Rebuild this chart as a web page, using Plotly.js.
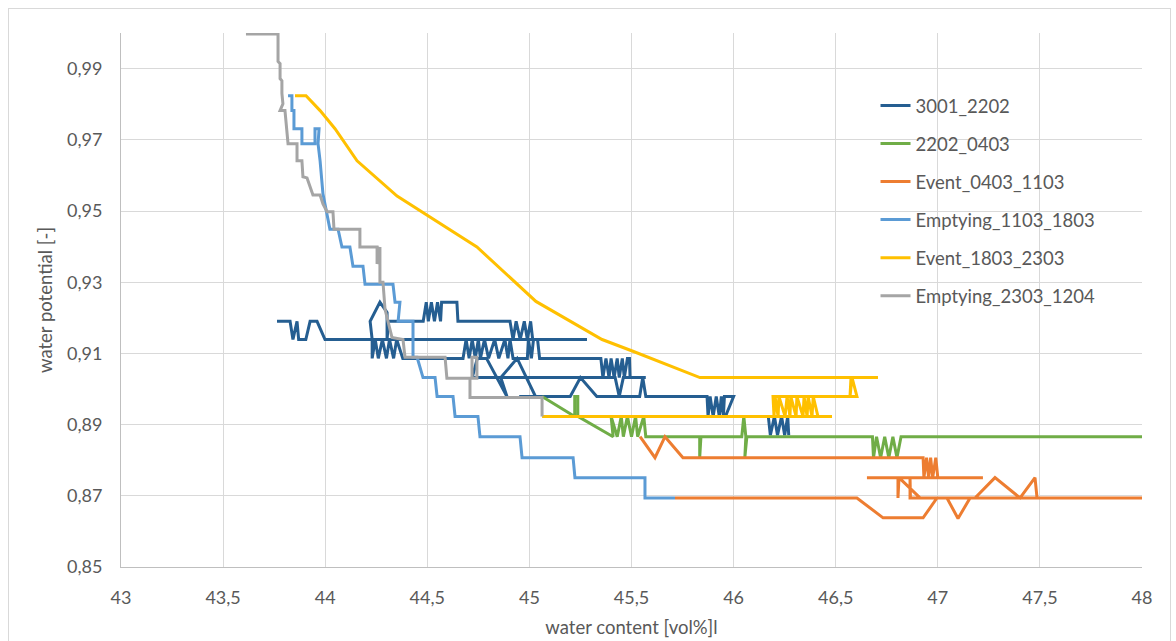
<!DOCTYPE html>
<html>
<head>
<meta charset="utf-8">
<script src="https://cdn.plot.ly/plotly-3.0.1.min.js"></script>
<style>
  html, body { margin:0; padding:0; background:#ffffff; }
  #chart { position:absolute; left:0; top:0; width:1176px; height:641px; }
  #frame { position:absolute; left:8px; top:8px; width:1161px; height:660px; border:1px solid #d9d9d9; pointer-events:none; }
</style>
</head>
<body>
<div id="chart"></div>
<div id="frame"></div>
<script>
// ---- data ----
const seriesNames = ["3001_2202", "2202_0403", "Event_0403_1103", "Emptying_1103_1803", "Event_1803_2303", "Emptying_2303_1204"];
const seriesColors = ["#255E91", "#70AD47", "#ED7D31", "#5B9BD5", "#FFC000", "#A5A5A5"];

const s3001_2202_x = [43.764,43.828,43.842,43.862,43.870,43.905,43.926,43.960,43.999,45.282,45.016,45.006,44.990,44.975,44.955,44.935,44.920,44.905,44.650,44.645,44.570,44.565,44.550,44.535,44.520,44.505,44.495,44.480,44.310,44.303,44.303,44.268,44.220,44.230,44.230,44.245,44.260,44.280,44.300,44.315,44.335,44.350,44.380,44.675,44.690,44.705,44.720,44.735,44.750,44.760,44.780,44.800,44.830,44.850,44.880,44.895,44.905,44.920,44.990,44.995,45.010,45.020,45.040,45.050,45.350,45.360,45.375,45.390,45.400,45.415,45.430,45.440,45.455,45.465,45.480,45.490,45.493,45.570,45.460,45.440,45.420,44.720,44.745,44.790,44.890,44.860,44.940,45.030,44.950,45.200,45.250,45.330,45.540,45.555,45.570,45.870,45.875,45.885,45.900,45.915,45.930,45.940,45.950,45.955,46.000,45.960,46.170,46.180,46.200,46.215,46.235,46.250,46.265,46.270];
const s3001_2202_y = [0.9190,0.9190,0.9139,0.9190,0.9139,0.9139,0.9190,0.9190,0.9139,0.9139,0.9139,0.9190,0.9139,0.9190,0.9139,0.9190,0.9139,0.9190,0.9190,0.9244,0.9244,0.9190,0.9244,0.9190,0.9244,0.9190,0.9244,0.9190,0.9190,0.9139,0.9215,0.9244,0.9190,0.9139,0.9086,0.9139,0.9086,0.9139,0.9086,0.9139,0.9086,0.9139,0.9086,0.9086,0.9139,0.9086,0.9139,0.9086,0.9139,0.9086,0.9139,0.9086,0.9139,0.9086,0.9139,0.9086,0.9139,0.9086,0.9086,0.9139,0.9086,0.9139,0.9139,0.9086,0.9086,0.9032,0.9086,0.9032,0.9086,0.9032,0.9086,0.9032,0.9086,0.9032,0.9086,0.9086,0.9032,0.9032,0.9032,0.8979,0.9032,0.9032,0.9086,0.9086,0.8979,0.9032,0.9086,0.8979,0.8979,0.8979,0.9032,0.8979,0.8979,0.9032,0.8979,0.8979,0.8923,0.8979,0.8923,0.8979,0.8923,0.8979,0.8923,0.8979,0.8979,0.8923,0.8923,0.8870,0.8923,0.8870,0.8923,0.8870,0.8923,0.8870];

const s2202_0403_x = [45.062,45.222,45.222,45.237,45.237,45.410,45.400,45.430,45.450,45.460,45.480,45.500,45.520,45.530,45.560,45.570,45.834,45.834,45.840,46.040,46.050,46.060,46.055,46.065,46.680,46.685,46.700,46.720,46.740,46.760,46.780,46.800,46.820,48.000];
const s2202_0403_y = [0.8979,0.8923,0.8979,0.8979,0.8923,0.8866,0.8923,0.8866,0.8923,0.8866,0.8923,0.8866,0.8923,0.8866,0.8923,0.8866,0.8866,0.8807,0.8866,0.8866,0.8923,0.8866,0.8807,0.8866,0.8866,0.8807,0.8866,0.8807,0.8866,0.8807,0.8866,0.8807,0.8866,0.8866];

const sEvent_0403_1103_x = [45.542,45.615,45.664,45.752,46.928,46.932,46.945,46.955,46.965,46.975,46.990,47.000,47.221,46.653,46.805,46.805,46.810,46.913,46.864,46.864,46.866,47.045,47.099,47.158,47.182,47.280,47.403,47.476,47.486,48.000,46.996,46.928,46.732,46.604,45.713];
const sEvent_0403_1103_y = [0.8866,0.8807,0.8866,0.8807,0.8807,0.8751,0.8807,0.8751,0.8807,0.8751,0.8807,0.8751,0.8751,0.8751,0.8751,0.8694,0.8751,0.8694,0.8694,0.8751,0.8694,0.8694,0.8636,0.8694,0.8694,0.8751,0.8694,0.8751,0.8694,0.8694,0.8694,0.8638,0.8638,0.8694,0.8694];

const sEmptying_1103_1803_x = [43.818,43.837,43.837,43.847,43.847,43.886,43.886,43.950,43.950,43.970,43.965,43.975,43.989,44.004,44.023,44.063,44.082,44.121,44.136,44.185,44.195,44.332,44.342,44.366,44.357,44.430,44.430,44.450,44.479,44.538,44.548,44.626,44.636,44.748,44.758,44.954,44.964,45.214,45.223,45.566,45.566,45.713];
const sEmptying_1103_1803_y = [0.9824,0.9824,0.9782,0.9782,0.9731,0.9731,0.9689,0.9689,0.9731,0.9731,0.9689,0.9641,0.9548,0.9500,0.9449,0.9449,0.9399,0.9399,0.9345,0.9345,0.9294,0.9294,0.9244,0.9244,0.9190,0.9190,0.9089,0.9089,0.9032,0.9032,0.8979,0.8979,0.8923,0.8923,0.8866,0.8866,0.8807,0.8807,0.8751,0.8751,0.8694,0.8694];

const sEvent_1803_2303_x = [43.852,43.906,43.975,44.048,44.156,44.352,44.743,45.032,45.356,45.507,45.835,46.707,46.575,46.570,46.580,46.604,46.193,46.198,46.203,46.218,46.222,46.252,46.262,46.276,46.280,46.306,46.310,46.340,46.345,46.360,46.365,46.384,46.390,46.413,46.482,45.062];
const sEvent_1803_2303_y = [0.9824,0.9824,0.9782,0.9731,0.9641,0.9542,0.9399,0.9246,0.9139,0.9106,0.9032,0.9032,0.9032,0.8979,0.9032,0.8979,0.8979,0.8923,0.8979,0.8923,0.8979,0.8923,0.8979,0.8923,0.8979,0.8923,0.8979,0.8923,0.8979,0.8923,0.8979,0.8923,0.8979,0.8923,0.8923,0.8923];

const sEmptying_2303_1204_x = [43.612,43.769,43.769,43.779,43.779,43.788,43.788,43.793,43.779,43.803,43.818,43.862,43.862,43.886,43.891,43.911,43.940,43.975,43.989,44.009,44.038,44.043,44.170,44.170,44.254,44.254,44.258,44.263,44.268,44.268,44.283,44.293,44.327,44.381,44.391,44.587,44.596,44.719,44.719,44.743,44.743,44.709,44.709,45.062,45.062];
const sEmptying_2303_1204_y = [0.9997,0.9997,0.9920,0.9914,0.9872,0.9866,0.9830,0.9801,0.9782,0.9782,0.9689,0.9689,0.9641,0.9641,0.9596,0.9593,0.9545,0.9545,0.9520,0.9498,0.9498,0.9449,0.9449,0.9399,0.9399,0.9351,0.9399,0.9351,0.9399,0.9300,0.9300,0.9224,0.9145,0.9139,0.9089,0.9089,0.9030,0.9030,0.9089,0.9089,0.9030,0.9030,0.8976,0.8976,0.8923];

const xTitle = "water content [vol%]l";
const yTitle = "water potential [-]";

// ---- build ----
const xs = [s3001_2202_x, s2202_0403_x, sEvent_0403_1103_x, sEmptying_1103_1803_x, sEvent_1803_2303_x, sEmptying_2303_1204_x];
const ys = [s3001_2202_y, s2202_0403_y, sEvent_0403_1103_y, sEmptying_1103_1803_y, sEvent_1803_2303_y, sEmptying_2303_1204_y];

const FONT = 'Lato, "Open Sans", sans-serif';
const TXT = '#595959';

const traces = seriesNames.map((n, i) => ({
  type: 'scatter',
  mode: 'lines',
  name: n,
  x: xs[i],
  y: ys[i],
  legendgroup: 'g' + i,
  line: { color: seriesColors[i], width: 3, shape: 'linear' },
  hoverinfo: 'x+y+name'
}));

const layout = {
  width: 1176,
  height: 641,
  margin: { l: 121, r: 34, t: 33, b: 74, pad: 0 },
  paper_bgcolor: 'rgba(0,0,0,0)',
  plot_bgcolor: '#ffffff',
  separators: ', ',
  font: { family: FONT, size: 18, color: TXT },
  showlegend: true,
  legend: {
    x: 0.739, y: 0.899, xanchor: 'left', yanchor: 'top',
    bgcolor: 'rgba(0,0,0,0)', borderwidth: 0,
    traceorder: 'grouped', tracegroupgap: 11,
    font: { family: FONT, size: 18.5, color: TXT }
  },
  xaxis: {
    range: [43, 48], tick0: 43, dtick: 0.5, autorange: false,
    showgrid: true, gridcolor: '#d9d9d9', gridwidth: 1,
    zeroline: false, showline: true, linecolor: '#bfbfbf', linewidth: 1,
    ticks: '', ticklabelstandoff: 14,
    tickfont: { family: FONT, size: 18, color: TXT },
    title: { text: xTitle, font: { family: FONT, size: 18.5, color: TXT }, standoff: 14 }
  },
  yaxis: {
    range: [0.85, 1.0], tick0: 0.85, dtick: 0.02, autorange: false,
    tickformat: '.2f',
    showgrid: true, gridcolor: '#d9d9d9', gridwidth: 1,
    zeroline: false, showline: true, linecolor: '#bfbfbf', linewidth: 1,
    ticks: '', ticklabelstandoff: 14,
    tickfont: { family: FONT, size: 18, color: TXT },
    title: { text: yTitle, font: { family: FONT, size: 18.5, color: TXT }, standoff: 9 }
  }
};

Plotly.newPlot('chart', traces, layout, { staticPlot: true, displayModeBar: false });
</script>
</body>
</html>
